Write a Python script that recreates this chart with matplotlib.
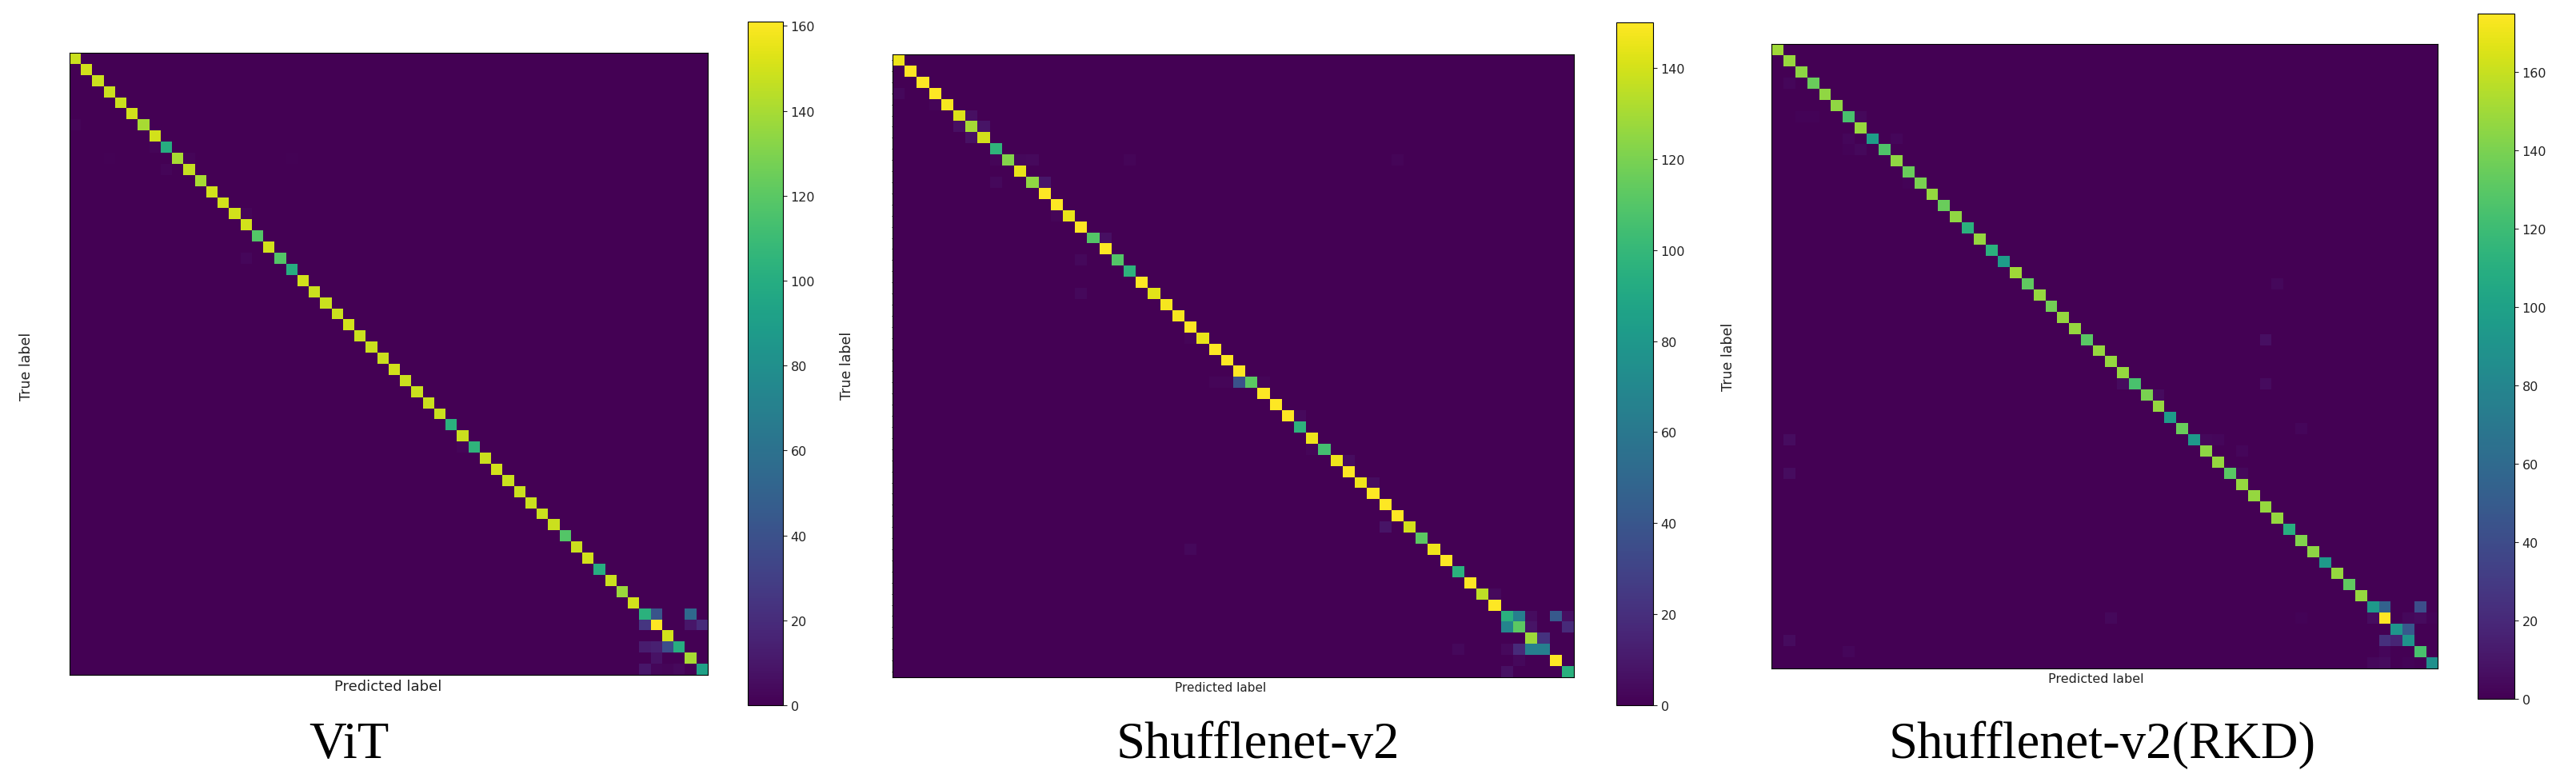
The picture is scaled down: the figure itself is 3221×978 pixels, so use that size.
#!/usr/bin/env python3
# -*- coding: utf-8 -*-
"""Confusion matrices of three models, side by side."""

import numpy as np
import matplotlib
matplotlib.use('Agg')
import matplotlib.pyplot as plt

W, H = 3221, 979
N_CLASSES = 56

# diagonal counts
vit_diag = [148, 150, 148, 148, 148, 150, 140, 150, 100, 140,
            147, 140, 150, 150, 150, 150, 118, 150, 118, 100,
            150, 148, 148, 148, 150, 148, 148, 148, 150, 148,
            148, 148, 148, 102, 148, 105, 148, 150, 148, 148,
            148, 148, 148, 118, 148, 150, 100, 148, 137, 150,
            103, 161, 150, 100, 140, 92]
shuffle_diag = [146, 150, 150, 150, 148, 142, 130, 140, 98, 122,
                145, 125, 150, 150, 145, 150, 110, 150, 110, 97,
                150, 143, 148, 148, 150, 145, 150, 150, 150, 112,
                150, 150, 150, 97, 146, 105, 146, 150, 146, 150,
                150, 150, 140, 112, 146, 150, 96, 150, 135, 150,
                95, 112, 128, 65, 150, 95]
rkd_diag = [150, 148, 145, 135, 146, 146, 125, 148, 98, 127,
            146, 135, 140, 147, 135, 146, 112, 147, 112, 97,
            150, 132, 147, 138, 147, 147, 130, 147, 147, 147,
            125, 140, 147, 97, 135, 95, 145, 147, 130, 147,
            147, 147, 147, 110, 142, 145, 95, 147, 132, 147,
            94, 175, 92, 90, 125, 88]

# off-diagonal confusions as (true, predicted, count)
vit_off = [(6, 0, 2), (8, 7, 2), (9, 3, 1), (9, 10, 2), (9, 19, 1), (10, 8, 2),
           (14, 15, 2), (18, 15, 3), (35, 34, 2),
           (50, 51, 42), (50, 54, 55), (51, 50, 25), (51, 54, 10), (51, 55, 20),
           (53, 50, 12), (53, 51, 14), (53, 52, 38), (54, 51, 8),
           (55, 50, 10), (55, 51, 3), (55, 52, 2), (55, 53, 4)]
shuffle_off = [(3, 0, 3), (4, 3, 2), (5, 6, 6), (6, 5, 6), (6, 7, 8), (7, 6, 7),
               (9, 8, 2), (9, 10, 3), (9, 11, 4), (9, 19, 2), (9, 41, 2),
               (11, 8, 3), (11, 12, 9), (14, 13, 2), (16, 17, 6), (18, 15, 3),
               (21, 15, 3), (25, 24, 2), (29, 26, 2), (29, 27, 2), (29, 28, 38),
               (29, 30, 2), (32, 33, 4), (35, 34, 2), (36, 37, 5), (38, 39, 5),
               (42, 40, 8), (44, 24, 3), (48, 49, 4),
               (50, 51, 65), (50, 52, 5), (50, 54, 42), (50, 55, 6),
               (51, 50, 68), (51, 52, 8), (51, 55, 18), (52, 53, 22),
               (53, 46, 3), (53, 50, 4), (53, 51, 18), (53, 52, 65),
               (54, 51, 3), (55, 50, 7)]
rkd_off = [(3, 1, 3), (6, 2, 2), (6, 3, 2), (6, 7, 4), (8, 6, 3), (8, 10, 3),
           (9, 6, 2), (9, 7, 4), (12, 11, 2), (21, 42, 4), (26, 41, 7),
           (30, 29, 5), (30, 41, 5), (31, 32, 5), (34, 44, 3), (35, 1, 6),
           (35, 36, 4), (35, 37, 3), (36, 39, 3), (38, 1, 6), (38, 39, 4),
           (50, 51, 55), (50, 54, 42), (51, 28, 4), (51, 44, 2), (51, 50, 6),
           (51, 53, 4), (51, 54, 5), (51, 55, 2), (52, 53, 48),
           (53, 1, 5), (53, 51, 24), (53, 52, 18), (54, 6, 3), (54, 51, 3),
           (55, 50, 4), (55, 51, 5), (55, 53, 2)]

vit_ticks = [0, 20, 40, 60, 80, 100, 120, 140, 160]
shuffle_ticks = [0, 20, 40, 60, 80, 100, 120, 140]
rkd_ticks = [0, 20, 40, 60, 80, 100, 120, 140, 160]

vit_name = 'ViT'
shuffle_name = 'Shufflenet-v2'
rkd_name = 'Shufflenet-v2(RKD)'


def px_axes(fig, left, top, right, bottom):
    # pixel box of the reference -> figure fractions
    return fig.add_axes([left / W, 1 - bottom / H, (right - left) / W, (bottom - top) / H])


def px_text(fig, x, y, s, **kw):
    fig.text(x / W, 1 - y / H, s, ha='center', va='center', **kw)


def draw_panel(fig, diag, off, ticks, name, box, cbox, xlab, ylab, title,
               xlab_size=13, left_ticks=False):
    cm = np.zeros((N_CLASSES, N_CLASSES))
    cm[np.arange(N_CLASSES), np.arange(N_CLASSES)] = diag
    for r, c, v in off:
        cm[r, c] = v

    ax = px_axes(fig, *box)
    im = ax.imshow(cm, cmap='viridis', vmin=0, vmax=cm.max(), aspect='auto',
                   interpolation='nearest')
    ax.set_xticks([])
    if left_ticks:
        ax.set_yticks(np.arange(N_CLASSES))
        ax.set_yticklabels([])
        ax.tick_params(axis='y', length=1, width=0.6)
    else:
        ax.set_yticks([])

    cax = px_axes(fig, *cbox)
    cbar = fig.colorbar(im, cax=cax)
    cbar.set_ticks(ticks)
    cbar.ax.tick_params(labelsize=11.5, colors='#222222')

    px_text(fig, xlab[0], xlab[1], 'Predicted label', fontsize=xlab_size, color='#222222')
    px_text(fig, ylab[0], ylab[1], 'True label', fontsize=12.5, color='#222222', rotation=90)
    px_text(fig, title[0], title[1], name, fontsize=46.5, family='Liberation Serif', color='black')


fig = plt.figure(figsize=(W / 100, H / 100), dpi=100)

draw_panel(fig, vit_diag, vit_off, vit_ticks, vit_name,
           (87, 67, 885, 845), (935, 28, 979, 883), (485, 859), (33, 458), (436, 932))
draw_panel(fig, shuffle_diag, shuffle_off, shuffle_ticks, shuffle_name,
           (1116, 69, 1968, 848), (2021, 29, 2067, 883), (1526, 861), (1059, 457), (1573, 932),
           xlab_size=11, left_ticks=True)
draw_panel(fig, rkd_diag, rkd_off, rkd_ticks, rkd_name,
           (2215, 56, 3048, 837), (3098, 18, 3144, 875), (2621, 850), (2161, 446), (2629, 932),
           xlab_size=11.5)

plt.savefig('out.png', dpi=100)
plt.close()
